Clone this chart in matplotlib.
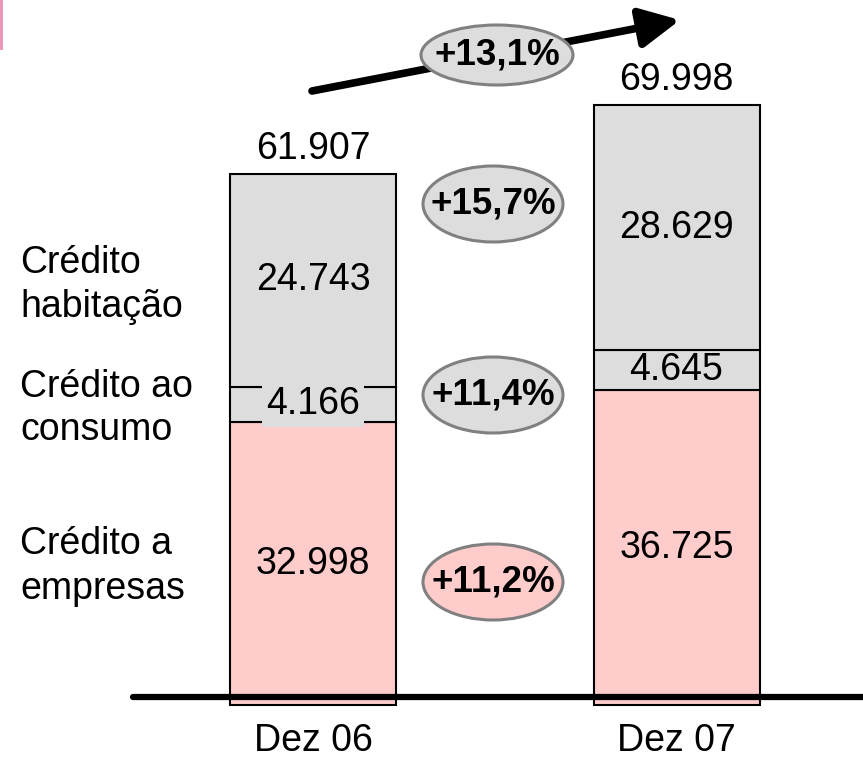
import matplotlib
matplotlib.use("Agg")
import matplotlib.pyplot as plt
from matplotlib.patches import Ellipse
from matplotlib.lines import Line2D
import numpy as np

# ---- data (values in thousands) ----
categories = ["Dez 06", "Dez 07"]
empresas = [32.998, 36.725]
consumo = [4.166, 4.645]
habitacao = [24.743, 28.629]
totals = [61.907, 69.998]
series_labels = ["Crédito\nhabitação", "Crédito ao\nconsumo", "Crédito a\nempresas"]
growth_segments = ["+15,7%", "+11,4%", "+11,2%"]
growth_total = "+13,1%"

plt.rcParams['font.family'] = ['Liberation Sans', 'DejaVu Sans']

PINK = "#FFCCCC"
GRAY = "#DDDDDD"

W, H = 863, 765
fig = plt.figure(figsize=(W / 100, H / 100), dpi=100)
ax = fig.add_axes([0, 0, 1, 1])
ax.axis('off')

# pixel geometry of the layout
x0_px, unit_px = 313.0, 363.5      # bar centre of first category, spacing
y0_px, scale_px = 705.0, 8.57       # baseline pixel, px per thousand
ax.set_xlim(-x0_px / unit_px, (W - x0_px) / unit_px)
ax.set_ylim(-(H - y0_px) / scale_px, y0_px / scale_px)

def X(px):
    return (px - x0_px) / unit_px

def Y(py):
    return (y0_px - py) / scale_px

x = np.arange(len(categories))
bw = 166 / unit_px
emp = np.array(empresas)
con = np.array(consumo)
hab = np.array(habitacao)

ax.bar(x, emp, width=bw, color=PINK, edgecolor='black', linewidth=1.5, zorder=2)
ax.bar(x, con, bottom=emp, width=bw, color=GRAY, edgecolor='black', linewidth=1.5, zorder=2)
ax.bar(x, hab, bottom=emp + con, width=bw, color=GRAY, edgecolor='black', linewidth=1.5, zorder=2)

FS = 27
for i in range(len(categories)):
    ax.text(x[i], emp[i] / 2, f"{emp[i]:.3f}", ha='center', va='center', fontsize=FS, zorder=4)
    if i == 0:
        ax.text(x[i], emp[i] + con[i] / 2, f"{con[i]:.3f}", ha='center', va='center', fontsize=FS, zorder=4,
                bbox=dict(boxstyle='square,pad=0.12', facecolor=GRAY, edgecolor='none'))
    else:
        ax.text(x[i], emp[i] + con[i] / 2, f"{con[i]:.3f}", ha='center', va='center', fontsize=FS, zorder=4)
    ax.text(x[i], emp[i] + con[i] + hab[i] / 2, f"{hab[i]:.3f}", ha='center', va='center', fontsize=FS, zorder=4)
    ax.text(x[i], totals[i] + 25 / scale_px, f"{totals[i]:.3f}", ha='center', va='center', fontsize=FS, zorder=4)
    ax.text(x[i], Y(741), categories[i], ha='center', va='center', fontsize=FS, zorder=4)

# left series labels
label_baselines = [(273, 317), (397, 440), (554, 599)]
for lab, bls in zip(series_labels, label_baselines):
    for line, b in zip(lab.split("\n"), bls):
        ax.text(X(20), Y(b), line, ha='left', va='baseline', fontsize=FS)

# baseline
ax.plot([X(133), X(870)], [Y(697), Y(697)], color='black', lw=4.5, solid_capstyle='round', zorder=5)

# growth arrow
ax.annotate('', xy=(X(680), Y(20)), xytext=(X(312), Y(91)),
            arrowprops=dict(arrowstyle='-|>', mutation_scale=60, lw=5.5, color='black',
                            shrinkA=0, shrinkB=0, capstyle='round'), zorder=3)

# growth ellipses
def bubble(cx, cy, w, h, text, fc):
    e = Ellipse((X(cx), Y(cy)), width=w / unit_px, height=h / scale_px,
                facecolor=fc, edgecolor='#808080', linewidth=2.2, zorder=6)
    ax.add_patch(e)
    ax.text(X(cx), Y(cy), text, ha='center', va='center', fontsize=26.5, fontweight='bold', zorder=7)

bubble(497, 55, 152, 60, growth_total, GRAY)
bubble(493, 204, 140, 76, growth_segments[0], GRAY)
bubble(493, 395, 140, 76, growth_segments[1], GRAY)
bubble(493, 582, 140, 76, growth_segments[2], PINK)

# small pink mark top-left
fig.add_artist(Line2D([0.0015, 0.0015], [1, 1 - 48 / H], color='#E991B5', lw=2))

fig.savefig("out.png", dpi=100)
